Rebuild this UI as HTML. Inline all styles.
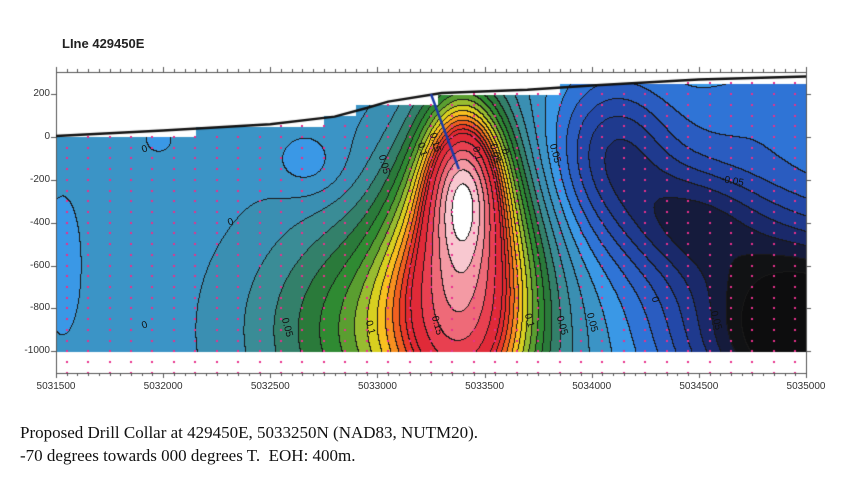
<!DOCTYPE html>
<html><head><meta charset="utf-8">
<style>
body{margin:0;background:#fff;width:849px;height:485px;overflow:hidden;position:relative;font-family:"Liberation Sans",sans-serif}
canvas{position:absolute;left:0;top:0}
.t{position:absolute;white-space:nowrap}
</style></head><body>
<canvas id="cv" width="849" height="485"></canvas>
<div class="t" style="left:62px;top:36px;font-size:13px;font-weight:bold;color:#222">LIne 429450E</div>
<div class="t" style="left:20px;top:423px;font-family:'Liberation Serif',serif;font-size:17px;color:#111">Proposed Drill Collar at 429450E, 5033250N (NAD83, NUTM20).</div>
<div class="t" style="left:20px;top:446px;font-family:'Liberation Serif',serif;font-size:17px;color:#111">-70 degrees towards 000 degrees T.&nbsp; EOH: 400m.</div>
<div id="lbls"></div>
<script>
// ---- data ----
const xTicks=[5031500,5032000,5032500,5033000,5033500,5034000,5034500,5035000];
const yTicks=[200,0,-200,-400,-600,-800,-1000];
// anomaly sources
const srcX=[5033400,5033400,5033150,5034100,5034450,5035000,5034700,5031530,5032680,5031980,5034900];
const srcZ=[-220,-650,-900,-50,-380,-920,-500,-600,-130,-10,150];
const srcA=[0.13,0.14,0.07,-0.045,-0.04,-0.095,-0.02,-0.012,-0.014,-0.008,-0.015];
const srcSX=[115,210,450,200,250,380,600,60,120,50,300];
const srcSZ=[240,480,400,250,200,330,450,220,110,50,150];
const baseVal=0.004;
const levels=[-0.08,-0.07,-0.06,-0.05,-0.04,-0.03,-0.02,-0.01,0,0.01,0.02,0.03,0.04,0.05,0.06,0.07,0.08,0.09,0.10,0.11,0.12,0.13,0.14,0.16,0.18,0.20,0.22,0.24];
const levelColors=['#111214','#151b3c','#1a296a','#1f3a8e','#2348a8','#2a5cc0','#2f74d6','#3a98e6','#3b94c6','#3a8fb2','#3a8c96','#33806a','#2a7a3a','#2f8a32','#5a9e30','#98bc30','#d8d020','#f8c020','#f89020','#f06020','#e83828','#e02830','#e02a38','#e84050','#ee6a78','#f49aa4','#f8c8d0','#ffffff'];
const lowColor='#0d0d0e';
const fillStepX=[5031500,5032150,5032750,5032900,5033280,5033850];
const fillStepZ=[0,50,100,150,200,250];
const topoX=[5031500,5032000,5032500,5032800,5032950,5033050,5033300,5033700,5034000,5034500,5035000];
const topoZ=[5,30,60,95,135,165,205,220,240,268,282];
const drillX=[5033250,5033380];const drillZ=[200,-150];
// contour labels
const labX=[5031950,5032350,5031950,5033030,5033220,5033270,5033480,5033550,5033630,5033830,5034000,5034580,5033280,5032980,5032580,5033720,5033860,5034330,5034650];
const labZ=[-60,-400,-880,-130,-60,-30,-80,-80,-70,-80,-870,-860,-880,-890,-890,-860,-880,-760,-210];
const labT=['0','0','0','0.05','0.1','0.15','0.1','0.05','0','0.05','0.05','0.05','0.15','0.1','0.05','0.1','0.05','0','-0.05'];
// ---- axes ----
const X0=56,X1=806,XM0=5031500,XM1=5035000;
const px=x=>X0+(x-XM0)*(X1-X0)/(XM1-XM0);
const py=z=>137-z*0.2143;
const G=(d,s)=>Math.exp(-0.5*(d/s)*(d/s));
function field(x,z){let v=baseVal;for(let i=0;i<srcX.length;i++)v+=srcA[i]*G(x-srcX[i],srcSX[i])*G(z-srcZ[i],srcSZ[i]);return v;}
function lev(v){let k=-1;for(let i=0;i<levels.length;i++)if(v>=levels[i])k=i;return k;}
function fillTop(x){let z=fillStepZ[0];for(let i=0;i<fillStepX.length;i++)if(x>=fillStepX[i])z=fillStepZ[i];return z;}
function interp(xs,zs,x){for(let i=0;i<xs.length-1;i++)if(x<=xs[i+1]){const t=(x-xs[i])/(xs[i+1]-xs[i]);return zs[i]+t*(zs[i+1]-zs[i]);}return zs[zs.length-1];}
const cv=document.getElementById('cv');const c=cv.getContext('2d');
const W=849,H=485;const img=c.createImageData(W,H);
const hex=h=>[parseInt(h.substr(1,2),16),parseInt(h.substr(3,2),16),parseInt(h.substr(5,2),16)];
const cols=levelColors.map(hex);const lc=hex(lowColor);
const ix0=Math.round(px(XM0)),ix1=Math.round(px(XM1)),iyB=Math.round(py(-1000));
const L=[];
for(let y=60;y<=iyB;y++){L[y]=[];for(let x=ix0;x<ix1;x++){const xm=XM0+(x-X0)*(XM1-XM0)/(X1-X0);const zm=(137-y)/0.2143;
 if(zm>fillTop(xm)){L[y][x]=null;continue;}L[y][x]=lev(field(xm,zm));}}
for(let i=0;i<W*H*4;i++)img.data[i]=255;
for(let y=60;y<=iyB;y++)for(let x=ix0;x<ix1;x++){const k=L[y][x];if(k===null)continue;let col=k<0?lc:cols[k];
 const r=L[y][x+1],d=L[y+1]?L[y+1][x]:undefined;
 if((r!==undefined&&r!==null&&r!==k)||(d!==undefined&&d!==null&&d!==k))col=[25,25,25];
 const o=(y*W+x)*4;img.data[o]=col[0];img.data[o+1]=col[1];img.data[o+2]=col[2];}
c.putImageData(img,0,0);
// dots
c.fillStyle='#e8308c';
for(let xm=5031550;xm<XM1;xm+=100){const tz=interp(topoX,topoZ,xm);for(let zm=-1100;zm<tz-10;zm+=50){c.fillRect(Math.round(px(xm))-1,Math.round(py(zm))-1,2,2);}}
// frame
c.strokeStyle='#555';c.lineWidth=1;
c.strokeRect(X0+.5,72.5,X1-X0,373-72);
c.beginPath();
for(let xm=XM0;xm<=XM1;xm+=50){const X=Math.round(px(xm))+.5;const big=(xm%500===0);c.moveTo(X,72);c.lineTo(X,72-(big?5:3));c.moveTo(X,373);c.lineTo(X,373+(big?5:3));}
yTicks.forEach(v=>{const Y=Math.round(py(v))+.5;c.moveTo(X0-5,Y);c.lineTo(X0,Y);c.moveTo(X1,Y);c.lineTo(X1+5,Y);});
c.stroke();
// topography
c.strokeStyle='#111';c.lineWidth=2.5;c.beginPath();
topoX.forEach((x,i)=>{i?c.lineTo(px(x),py(topoZ[i])):c.moveTo(px(x),py(topoZ[i]));});c.stroke();
// drill hole
c.strokeStyle='#1a3aa8';c.lineWidth=2.5;c.beginPath();c.moveTo(px(drillX[0]),py(drillZ[0]));c.lineTo(px(drillX[1]),py(drillZ[1]));c.stroke();
// labels
const lb=document.getElementById('lbls');
xTicks.forEach(v=>{const d=document.createElement('div');d.className='t';


d.style.cssText=`left:${px(v)-40}px;top:381px;width:80px;text-align:center;font-size:10px;color:#333`;d.textContent=v;lb.appendChild(d);});
yTicks.forEach(v=>{const d=document.createElement('div');d.className='t';


d.style.cssText=`left:0px;top:${py(v)-6}px;width:50px;text-align:right;font-size:10px;color:#333`;d.textContent=v;lb.appendChild(d);});
labT.forEach((t,i)=>{const d=document.createElement('div');d.className='t';


const rot=(t==='0'&&i<3)?-20:(i==18?10:75);
d.style.cssText=`left:${px(labX[i])-10}px;top:${py(labZ[i])-6}px;font-size:10px;color:#111;transform:rotate(${rot}deg)`;d.textContent=t;lb.appendChild(d);});
</script>
</body></html>
